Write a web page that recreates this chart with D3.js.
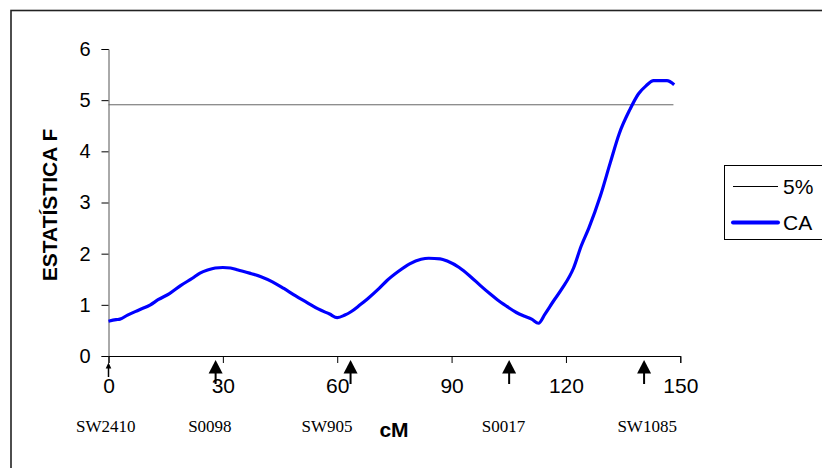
<!DOCTYPE html>
<html>
<head>
<meta charset="utf-8">
<script src="https://cdn.jsdelivr.net/npm/d3@7/dist/d3.min.js"></script>
<style>
  body { margin: 0; background: #fff; }
  svg { display: block; }
</style>
</head>
<body>
<svg id="chart" width="822" height="468"></svg>
<script>
// CA curve (cM, F statistic)
const caPos = [0, 2, 3, 5, 8, 11, 13, 16, 19, 22, 24, 26, 28, 30, 32, 34, 37, 40, 43, 46, 49, 52, 55, 58, 60, 62, 63.5, 66, 68, 71, 73, 76, 79, 82, 84, 87, 89, 92, 95, 97.5, 100, 102, 104.5, 107, 109, 111, 112.8, 114.5, 116.7, 119, 122, 124, 126, 129, 131.6, 134, 136.8, 139, 141, 143, 146.5, 148.4];
const caF = [0.68, 0.71, 0.72, 0.80, 0.90, 1.00, 1.10, 1.22, 1.38, 1.52, 1.62, 1.68, 1.72, 1.73, 1.72, 1.68, 1.62, 1.55, 1.45, 1.32, 1.18, 1.05, 0.92, 0.82, 0.75, 0.80, 0.86, 1.00, 1.12, 1.32, 1.47, 1.65, 1.80, 1.89, 1.91, 1.90, 1.85, 1.73, 1.55, 1.38, 1.22, 1.10, 0.97, 0.85, 0.78, 0.72, 0.64, 0.82, 1.07, 1.32, 1.72, 2.15, 2.50, 3.12, 3.77, 4.35, 4.82, 5.12, 5.28, 5.38, 5.38, 5.30];

// 5% threshold
const threshold = 4.91;
const thresholdEnd = 148.2;

// markers: arrow position in cM and where the name sits
const markerNames = ['SW2410', 'S0098', 'SW905', 'S0017', 'SW1085'];
const markerPos = [0, 28.1, 63.5, 105.1, 140.5];
const markerLabelAt = [-0.7, 26.6, 57.3, 103.6, 141.3];

const xTicks = [0, 30, 60, 90, 120, 150];
const yTicks = [0, 1, 2, 3, 4, 5, 6];
const legendItems = ['5%', 'CA'];

const svg = d3.select('#chart');

// outer frame (cut off at the right and bottom like the original)
svg.append('rect')
    .attr('x', 11).attr('y', 10.5)
    .attr('width', 830).attr('height', 480)
    .attr('fill', 'none').attr('stroke', '#222').attr('stroke-width', 1.6);

const x = d3.scaleLinear().domain([0, 150]).range([108.5, 680.3]);
const y = d3.scaleLinear().domain([0, 6]).range([356, 49]);

// y axis
const yAxis = svg.append('g')
    .attr('transform', `translate(${x(0)},0)`)
    .call(d3.axisLeft(y).tickValues(yTicks).tickFormat(d3.format('d')).tickSize(7).tickPadding(11));
yAxis.select('.domain').attr('stroke', '#555');
yAxis.selectAll('text').attr('font-family', 'Liberation Sans, Arial, sans-serif')
    .attr('font-size', 20).attr('fill', '#000');

// x axis
const xAxis = svg.append('g')
    .attr('transform', `translate(0,${y(0)})`)
    .call(d3.axisBottom(x).tickValues(xTicks).tickFormat(d3.format('d')).tickSize(7).tickSizeOuter(7).tickPadding(15));
xAxis.select('.domain').attr('stroke', '#000');
xAxis.selectAll('text').attr('font-family', 'Liberation Sans, Arial, sans-serif')
    .attr('font-size', 21).attr('fill', '#000');

// threshold line
svg.append('line')
    .attr('x1', x(0)).attr('x2', x(thresholdEnd))
    .attr('y1', y(threshold)).attr('y2', y(threshold))
    .attr('stroke', '#666').attr('stroke-width', 1);

// CA curve
const pts = caPos.map((p, i) => [p, caF[i]]);
svg.append('path')
    .datum(pts)
    .attr('fill', 'none')
    .attr('stroke', '#0000ff')
    .attr('stroke-width', 3.2)
    .attr('stroke-linejoin', 'round')
    .attr('d', d3.line().x(d => x(d[0])).y(d => y(d[1])).curve(d3.curveMonotoneX));

// marker arrows, the first one small
const arrows = svg.append('g');
markerPos.forEach((p, i) => {
    const cx = x(p);
    const small = i === 0;
    const tip = small ? 362.5 : 360;
    const base = small ? 368.5 : 373.5;
    const hw = small ? 2.8 : 7;
    const stemEnd = small ? 377 : 384;
    arrows.append('path')
        .attr('d', `M${cx},${tip} L${cx + hw},${base} L${cx - hw},${base} Z`)
        .attr('fill', '#000');
    arrows.append('line')
        .attr('x1', cx).attr('x2', cx)
        .attr('y1', base - 1).attr('y2', stemEnd)
        .attr('stroke', '#000').attr('stroke-width', small ? 1.5 : 2);
});

svg.append('g').selectAll('text').data(markerNames).join('text')
    .attr('x', (d, i) => x(markerLabelAt[i]))
    .attr('y', 432)
    .attr('text-anchor', 'middle')
    .attr('font-family', 'Liberation Serif, Times New Roman, serif')
    .attr('font-size', 17)
    .text(d => d);

// axis titles
svg.append('text')
    .attr('x', 394).attr('y', 436.5)
    .attr('text-anchor', 'middle')
    .attr('font-family', 'Liberation Sans, Arial, sans-serif')
    .attr('font-weight', 'bold').attr('font-size', 21)
    .text('cM');

svg.append('clipPath').attr('id', 'ytitle-clip')
    .append('rect').attr('x', 0).attr('y', 122).attr('width', 100).attr('height', 300);
svg.append('g')
    .attr('clip-path', 'url(#ytitle-clip)')
  .append('text')
    .attr('transform', 'translate(57.3,205) rotate(-90)')
    .attr('text-anchor', 'middle')
    .attr('font-family', 'Liberation Sans, Arial, sans-serif')
    .attr('font-weight', 'bold').attr('font-size', 21)
    .text('ESTATÍSTICA F');

// legend
const legend = svg.append('g');
legend.append('rect')
    .attr('x', 724.5).attr('y', 165.5)
    .attr('width', 120).attr('height', 74)
    .attr('fill', '#fff').attr('stroke', '#000').attr('stroke-width', 1);
legend.selectAll('line').data(legendItems).join('line')
    .attr('x1', 733).attr('x2', 778)
    .attr('y1', (d, i) => 186.5 + i * 36).attr('y2', (d, i) => 186.5 + i * 36)
    .attr('stroke', (d, i) => i === 0 ? '#000' : '#0000ff')
    .attr('stroke-width', (d, i) => i === 0 ? 1 : 4)
    .attr('stroke-linecap', (d, i) => i === 0 ? 'butt' : 'round');
legend.selectAll('text').data(legendItems).join('text')
    .attr('x', 783)
    .attr('y', (d, i) => 193.5 + i * 36)
    .attr('font-family', 'Liberation Sans, Arial, sans-serif')
    .attr('font-size', 21)
    .text(d => d);
</script>
</body>
</html>
